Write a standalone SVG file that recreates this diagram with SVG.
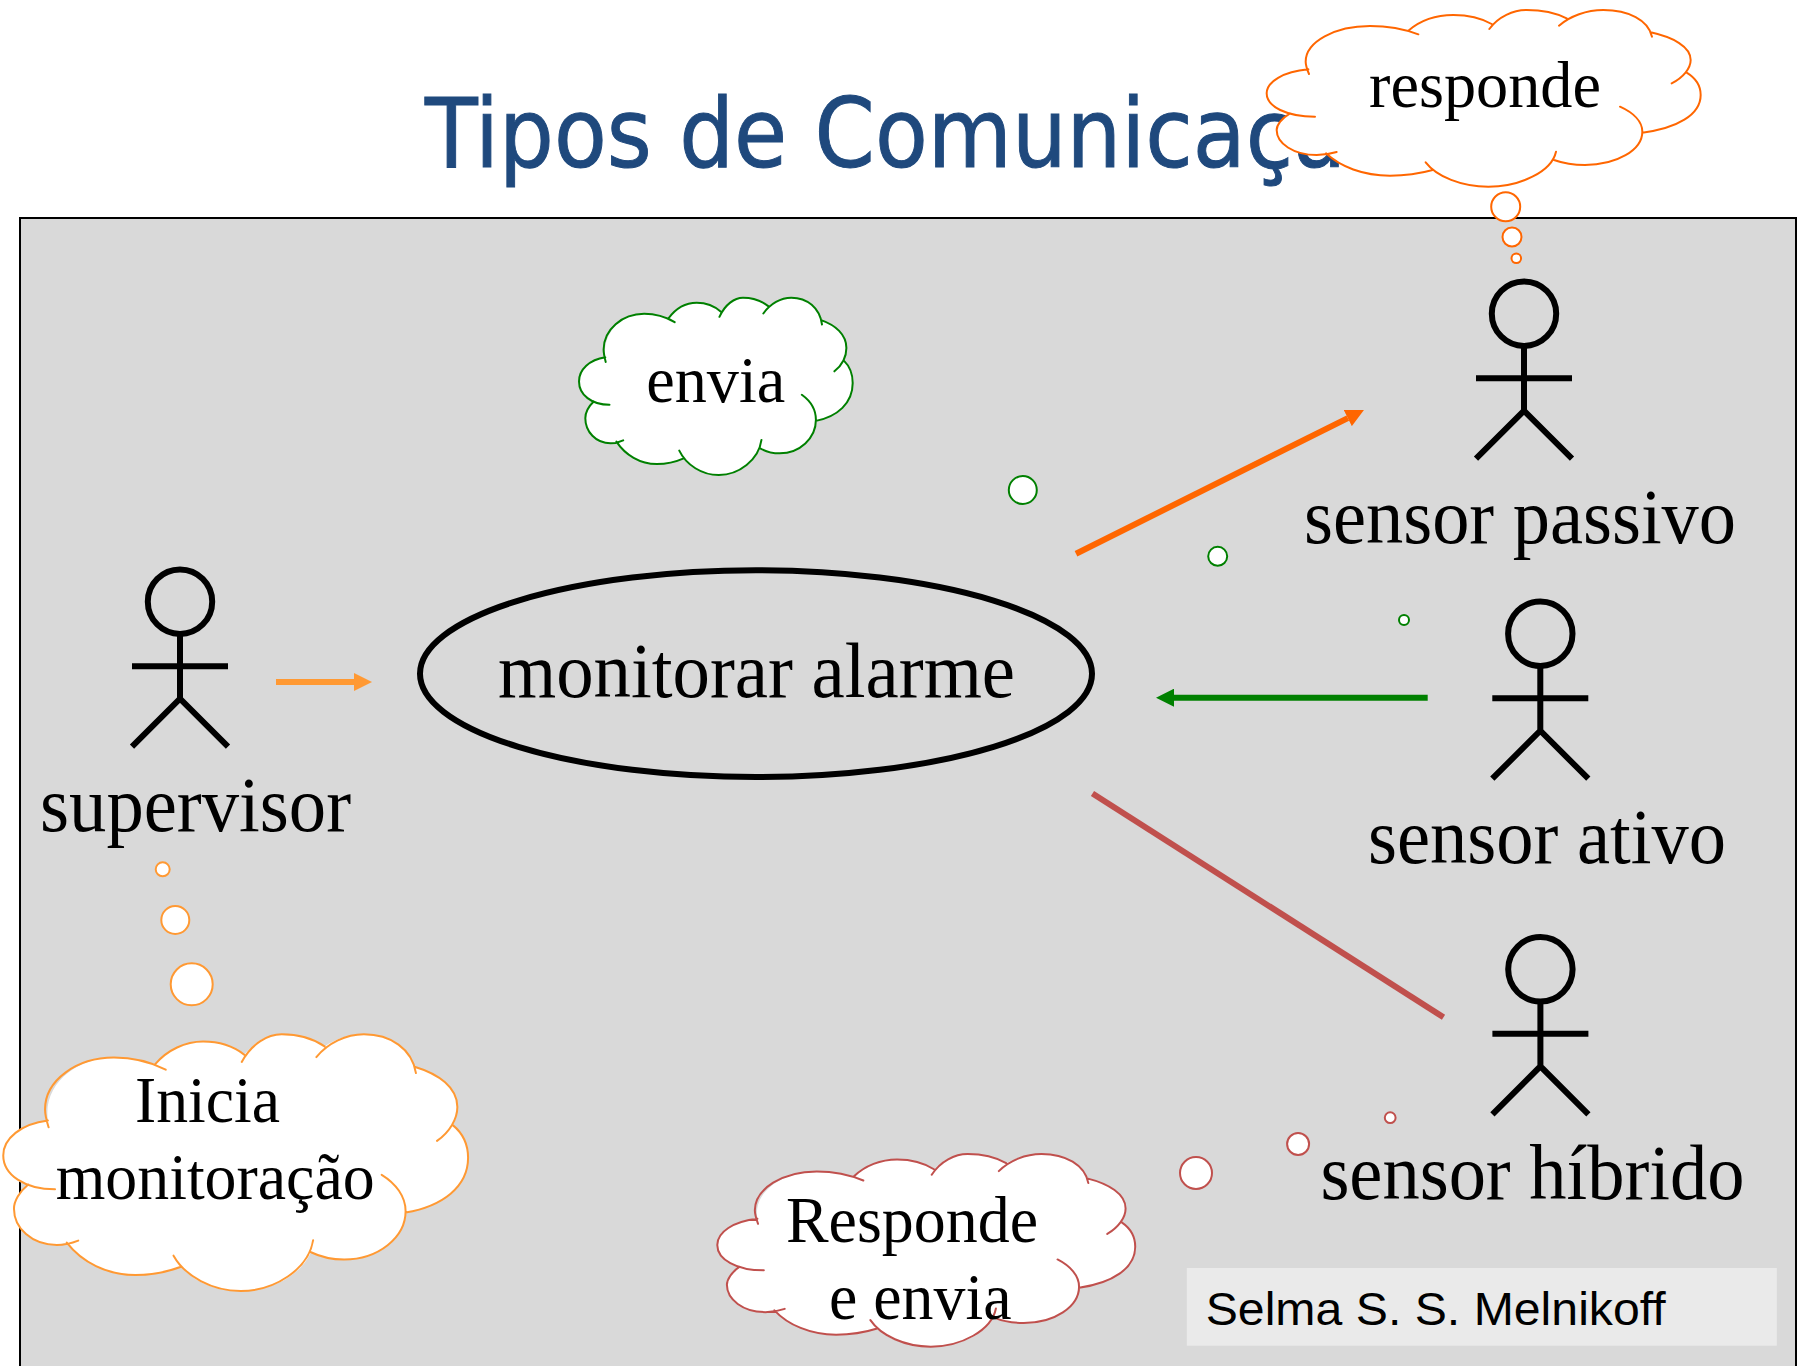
<svg xmlns="http://www.w3.org/2000/svg" xmlns:xlink="http://www.w3.org/1999/xlink" width="1806" height="1366" viewBox="0 0 1806 1366">
<style>
.lbl{font-family:"Liberation Serif","Times New Roman",serif;font-size:78px;fill:#000}
.cld{font-size:66px}
.cf{fill:#fff;stroke:none}
.cl{fill:none;stroke-width:2;vector-effect:non-scaling-stroke;stroke-linecap:round}
.bub{fill:#fff;stroke-width:2}
.act{fill:none;stroke:#000;stroke-width:6}
.con{fill:none;stroke-width:6}
.org{stroke:#ff9933}.dor{stroke:#ff6600}.grn{stroke:#008000}.red{stroke:#c0504d}
</style>
<defs>
<marker id="hOrg" markerUnits="userSpaceOnUse" markerWidth="18" markerHeight="18" refX="0" refY="9" orient="auto"><path d="M0 0L18 9L0 18Z" fill="#ff9933"/></marker>
<marker id="hDor" markerUnits="userSpaceOnUse" markerWidth="18" markerHeight="18" refX="0" refY="9" orient="auto"><path d="M0 0L18 9L0 18Z" fill="#ff6600"/></marker>
<marker id="hGrn" markerUnits="userSpaceOnUse" markerWidth="18" markerHeight="18" refX="0" refY="9" orient="auto"><path d="M0 0L18 9L0 18Z" fill="#008000"/></marker>
<g id="cloud">
<path class="cf" d="M205 208C190 130 290 78 390 78C430 78 470 85 505 92C540 62 590 45 640 45C685 45 725 55 755 72C785 45 820 30 860 30C905 30 950 40 980 55C1010 40 1050 30 1090 30C1160 30 1215 60 1232 97C1300 112 1352 140 1352 180C1352 195 1348 205 1340 218C1368 235 1382 260 1382 285C1382 345 1310 385 1207 398C1205 450 1130 495 1035 495C1000 495 970 490 942 480C910 530 830 560 745 560C680 560 620 545 578 510C535 522 490 527 450 527C370 527 300 500 258 460L230 465C160 465 110 430 110 390C110 375 125 355 150 340C110 335 80 310 80 280C80 245 130 215 205 208Z"/>
<path class="cl" d="M207 222C200 205 197 195 197 185C197 125 285 78 390 78C440 78 495 88 535 103M505 92C540 62 590 45 640 45C685 45 725 55 755 72M748 87C775 50 820 30 860 30C905 30 950 40 980 55M957 77C990 48 1040 30 1090 30C1165 30 1225 60 1236 110M1232 97C1300 112 1352 140 1352 180C1352 205 1330 232 1295 250M1340 218C1368 235 1382 260 1382 285C1382 345 1310 385 1207 398M1140 320C1180 338 1207 365 1207 395C1207 450 1130 495 1035 495C1000 495 970 490 942 480M948 455C935 515 840 560 745 560C665 560 590 530 557 487M578 510C535 522 490 527 450 527C370 527 300 500 258 460M290 456C270 462 250 465 230 465C160 465 110 430 110 390C110 375 125 355 150 340M225 350C140 350 80 320 80 280C80 245 130 215 205 208"/>
</g>
<g id="actor" class="act">
<circle cx="0" cy="0" r="32.2"/>
<path d="M0 32V96M-48 64.5H48M-48 145L0 97L48 145"/>
</g>
</defs>

<g id="title"><text x="425" y="167" font-family="'DejaVu Sans',sans-serif" font-size="97" fill="#1f497d" stroke="#1f497d" stroke-width="1" textLength="974" lengthAdjust="spacingAndGlyphs">Tipos de Comunicação</text></g>
<rect id="frame" x="20" y="218" width="1776" height="1200" fill="#d9d9d9" stroke="#000" stroke-width="2"/>

<g id="connectors">
<path class="con org" d="M276 682H354" marker-end="url(#hOrg)"/>
<path class="con dor" d="M1076 553.7L1347.8 418.1" marker-end="url(#hDor)"/>
<path class="con grn" d="M1427.7 697.7H1174" marker-end="url(#hGrn)"/>
<path class="con red" d="M1092.5 793.5L1443.5 1017.3"/>
</g>

<g id="node-supervisor"><use href="#actor" x="180" y="601.7"/><text class="lbl" x="40" y="831" textLength="311" lengthAdjust="spacingAndGlyphs">supervisor</text></g>
<g id="node-monitorar"><ellipse cx="756" cy="673.7" rx="336" ry="103.4" fill="none" stroke="#000" stroke-width="6"/><text class="lbl" x="498" y="697" textLength="517" lengthAdjust="spacingAndGlyphs">monitorar alarme</text></g>
<g id="node-sensor-passivo"><use href="#actor" x="1524" y="313.7"/><text class="lbl" x="1304" y="543" textLength="432" lengthAdjust="spacingAndGlyphs">sensor passivo</text></g>
<g id="node-sensor-ativo"><use href="#actor" x="1540.3" y="633.7"/><text class="lbl" x="1368" y="862.7" textLength="358" lengthAdjust="spacingAndGlyphs">sensor ativo</text></g>
<g id="node-sensor-hibrido"><use href="#actor" x="1540.4" y="969.3"/><text class="lbl" x="1320.4" y="1199" textLength="424" lengthAdjust="spacingAndGlyphs">sensor híbrido</text></g>

<g id="note-responde">
<g class="dor"><use href="#cloud" transform="translate(1240 0) scale(.33333)"/>
<circle class="bub" cx="1505.7" cy="206.7" r="14.5"/><circle class="bub" cx="1512" cy="237" r="9.5"/><circle class="bub" cx="1516.3" cy="258.3" r="4.8"/></g>
<text class="lbl cld" x="1369" y="107" textLength="232" lengthAdjust="spacingAndGlyphs">responde</text>
</g>
<g id="note-envia">
<g class="grn"><use href="#cloud" transform="translate(562.2 287.7) scale(.2102 .3346)"/>
<circle class="bub" cx="1022.8" cy="490" r="14"/><circle class="bub" cx="1217.7" cy="556.3" r="9.5"/><circle class="bub" cx="1404" cy="620" r="5"/></g>
<text class="lbl cld" x="646.3" y="402" textLength="139" lengthAdjust="spacingAndGlyphs">envia</text>
</g>
<g id="note-inicia">
<g class="org"><use href="#cloud" transform="translate(-25.3 1019.8) scale(.357 .4843)"/>
<circle class="bub" cx="162.7" cy="869.3" r="7"/><circle class="bub" cx="175.3" cy="920" r="14"/><circle class="bub" cx="191.7" cy="984.3" r="21"/></g>
<text class="lbl cld" x="135" y="1122" textLength="145" lengthAdjust="spacingAndGlyphs">Inicia</text>
<text class="lbl cld" x="55.7" y="1198.5" textLength="319" lengthAdjust="spacingAndGlyphs">monitoração</text>
</g>
<g id="note-responde-envia">
<g class="red"><use href="#cloud" transform="translate(691.6 1143.1) scale(.321 .3635)"/>
<circle class="bub" cx="1196" cy="1173" r="16"/><circle class="bub" cx="1298.1" cy="1144" r="11"/><circle class="bub" cx="1390.2" cy="1117.7" r="5.4"/></g>
<text class="lbl cld" x="786" y="1242" textLength="252" lengthAdjust="spacingAndGlyphs">Responde</text>
<text class="lbl cld" x="829" y="1318.5" textLength="182.5" lengthAdjust="spacingAndGlyphs">e envia</text>
</g>
<g id="credit"><rect x="1186.8" y="1268" width="590" height="77.7" fill="#eaeaea"/><text x="1205.7" y="1324.6" font-family="'Liberation Sans',Arial,sans-serif" font-size="47" fill="#000" textLength="460" lengthAdjust="spacingAndGlyphs">Selma S. S. Melnikoff</text></g>
</svg>
